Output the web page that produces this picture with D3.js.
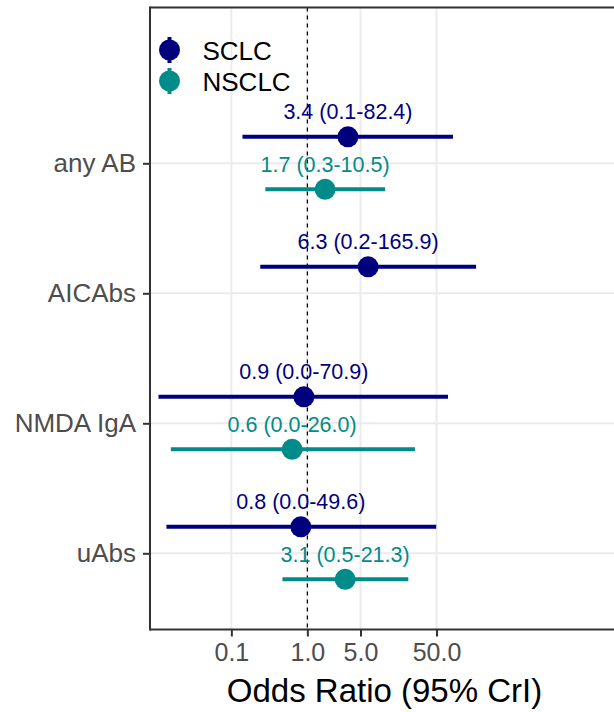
<!DOCTYPE html>
<html>
<head>
<meta charset="utf-8">
<script src="https://cdn.jsdelivr.net/npm/d3@7"></script>
<style>
  html, body { margin: 0; padding: 0; background: #fff; overflow: hidden; }
  text { font-family: "Liberation Sans", Arial, sans-serif; }
</style>
</head>
<body>
<div id="main"></div>
<script>
const width = 614;
const height = 712;

// data
const categories = ["any AB", "AICAbs", "NMDA IgA", "uAbs"];
const groups = ["SCLC", "NSCLC"];
const groupColors = ["#00007f", "#008b8b"];

const sclcOR = [3.42, 6.3, 0.9, 0.82];
const sclcLow = [0.14, 0.24, 0.011, 0.014];
const sclcHigh = [82.4, 165.9, 70.9, 49.6];

const nsclcOR = [1.71, null, 0.63, 3.14];
const nsclcLow = [0.28, null, 0.016, 0.47];
const nsclcHigh = [10.5, null, 26.0, 21.3];

const xTicks = [0.1, 1, 5, 50];

const panel = { left: 150, right: 619, top: 7.5, bottom: 629.5 };

const rows = [];
categories.forEach((c, i) => {
  rows.push({ cat: c, group: "SCLC", or: sclcOR[i], lo: sclcLow[i], hi: sclcHigh[i] });
  if (nsclcOR[i] !== null) {
    rows.push({ cat: c, group: "NSCLC", or: nsclcOR[i], lo: nsclcLow[i], hi: nsclcHigh[i] });
  }
});

const x = d3.scaleLog().domain([0.0085, 12600]).range([panel.left, panel.right]);
const y = d3.scalePoint().domain(categories).range([163.3, 553.3]);
const dodge = d3.scaleOrdinal().domain(groups).range([-26.5, 26]);
const color = d3.scaleOrdinal().domain(groups).range(groupColors);
const fmt = d3.format(".1f");

const svg = d3.select("#main").append("svg")
  .attr("width", width).attr("height", height)
  .style("display", "block");

svg.append("rect").attr("width", width).attr("height", height).attr("fill", "#fff");

// grid
svg.append("g")
  .selectAll("line")
  .data(xTicks)
  .join("line")
  .attr("x1", (d) => x(d)).attr("x2", (d) => x(d))
  .attr("y1", panel.top).attr("y2", panel.bottom)
  .attr("stroke", "#ebebeb").attr("stroke-width", 2);

svg.append("g")
  .selectAll("line")
  .data(categories)
  .join("line")
  .attr("x1", panel.left).attr("x2", width)
  .attr("y1", (d) => y(d)).attr("y2", (d) => y(d))
  .attr("stroke", "#ebebeb").attr("stroke-width", 2);

// reference line at OR = 1
svg.append("line")
  .attr("x1", x(1)).attr("x2", x(1))
  .attr("y1", panel.top).attr("y2", panel.bottom)
  .attr("stroke", "#000").attr("stroke-width", 1.2)
  .attr("stroke-dasharray", "4,4");

// intervals, points, labels
const marks = svg.append("g").selectAll("g").data(rows).join("g");

marks.append("line")
  .attr("x1", (d) => x(d.lo)).attr("x2", (d) => x(d.hi))
  .attr("y1", (d) => y(d.cat) + dodge(d.group))
  .attr("y2", (d) => y(d.cat) + dodge(d.group))
  .attr("stroke", (d) => color(d.group)).attr("stroke-width", 4);

marks.append("circle")
  .attr("cx", (d) => x(d.or))
  .attr("cy", (d) => y(d.cat) + dodge(d.group))
  .attr("r", 10.5)
  .attr("fill", (d) => color(d.group));

marks.append("text")
  .attr("x", (d) => x(d.or))
  .attr("y", (d) => y(d.cat) + dodge(d.group) - 17.5)
  .attr("text-anchor", "middle")
  .attr("fill", (d) => color(d.group))
  .style("font-size", "21.5px")
  .text((d) => `${fmt(d.or)} (${fmt(d.lo)}-${fmt(d.hi)})`);

// panel border: left, top and bottom; the right side runs off the picture
const border = svg.append("g").attr("stroke", "#333").attr("stroke-width", 2);
border.append("line").attr("x1", panel.left).attr("x2", width).attr("y1", panel.top).attr("y2", panel.top);
border.append("line").attr("x1", panel.left).attr("x2", width).attr("y1", panel.bottom).attr("y2", panel.bottom);
border.append("line").attr("x1", panel.left).attr("x2", panel.left).attr("y1", panel.top - 1).attr("y2", panel.bottom + 1);

// axes
const xAxis = svg.append("g")
  .attr("transform", `translate(0,${panel.bottom})`)
  .call(d3.axisBottom(x).tickValues(xTicks).tickFormat(d3.format(".1f")).tickSize(7).tickPadding(7));
xAxis.select(".domain").remove();
xAxis.selectAll(".tick line").attr("stroke", "#333").attr("stroke-width", 2);
xAxis.selectAll(".tick text")
  .attr("fill", "#4d4d4d")
  .style("font-size", "25px")
  .style("font-family", "'Liberation Sans', Arial, sans-serif");

const yAxis = svg.append("g")
  .attr("transform", `translate(${panel.left},0)`)
  .call(d3.axisLeft(y).tickSize(7).tickPadding(7));
yAxis.select(".domain").remove();
yAxis.selectAll(".tick line").attr("stroke", "#333").attr("stroke-width", 2);
yAxis.selectAll(".tick text")
  .attr("fill", "#4d4d4d")
  .style("font-size", "26px")
  .style("font-family", "'Liberation Sans', Arial, sans-serif");

svg.append("text")
  .attr("x", (panel.left + panel.right) / 2)
  .attr("y", 702)
  .attr("text-anchor", "middle")
  .attr("fill", "#000")
  .style("font-size", "33px")
  .text("Odds Ratio (95% CrI)");

// legend
const legend = svg.append("g").selectAll("g").data(groups).join("g")
  .attr("transform", (d, i) => `translate(169.5,${50 + i * 31})`);

legend.append("line")
  .attr("y1", -13).attr("y2", 13)
  .attr("stroke", (d) => color(d)).attr("stroke-width", 4);
legend.append("circle")
  .attr("r", 10.5)
  .attr("fill", (d) => color(d));
legend.append("text")
  .attr("x", 33)
  .attr("y", 10)
  .attr("fill", "#000")
  .style("font-size", "26px")
  .text((d) => d);
</script>
</body>
</html>
